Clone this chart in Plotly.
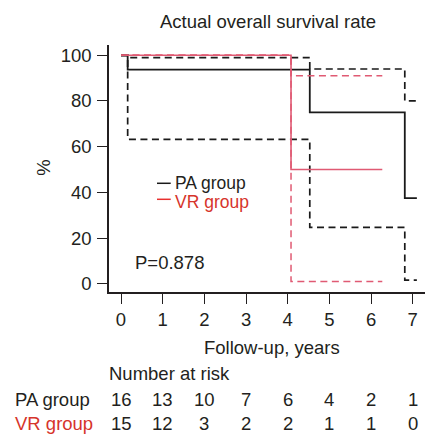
import plotly.graph_objects as go

# ---- data ----
pa_t = [0, 0.16, 4.53, 6.81, 7.1]
pa_s = [100, 93.75, 75, 37.5, 37.5]
pa_up = [100, 99, 94, 80, 80]
pa_lo = [100, 63.2, 24.7, 1.6, 1.6]

vr_t = [0, 4.08, 6.27]
vr_s = [100, 50, 50]
vr_up = [100, 91, 91]
vr_lo = [100, 1, 1]

x_ticks = [0, 1, 2, 3, 4, 5, 6, 7]
y_ticks = [0, 20, 40, 60, 80, 100]
risk_pa = [16, 13, 10, 7, 6, 4, 2, 1]
risk_vr = [15, 12, 3, 2, 2, 1, 1, 0]
groups = ["PA group", "VR group"]
p_text = "P=0.878"

BLACK = "#1a1a1a"
RED_LINE = "#e05a73"
RED_TEXT = "#d6342b"
TXT = "#231f20"
FONT = "Liberation Sans, Arial, Helvetica, sans-serif"
FS = 18.5
LFS = 17.5

fig = go.Figure()
dash = "7px,4.5px"
fig.add_trace(go.Scatter(x=pa_t, y=pa_up, mode="lines", line=dict(color=BLACK, width=1.7, dash=dash, shape="hv"), showlegend=False))
fig.add_trace(go.Scatter(x=pa_t, y=pa_lo, mode="lines", line=dict(color=BLACK, width=1.7, dash=dash, shape="hv"), showlegend=False))
fig.add_trace(go.Scatter(x=pa_t, y=pa_s, mode="lines", line=dict(color=BLACK, width=1.8, shape="hv"), showlegend=False))
fig.add_trace(go.Scatter(x=vr_t, y=vr_up, mode="lines", line=dict(color=RED_LINE, width=1.5, dash=dash, shape="hv"), showlegend=False))
fig.add_trace(go.Scatter(x=vr_t, y=vr_lo, mode="lines", line=dict(color=RED_LINE, width=1.5, dash=dash, shape="hv"), showlegend=False))
fig.add_trace(go.Scatter(x=vr_t, y=vr_s, mode="lines", line=dict(color=RED_LINE, width=1.6, shape="hv"), showlegend=False))

ann = []
# title
ann.append(dict(text="Actual overall survival rate", xref="paper", yref="paper", x=0.503, y=1.095,
                xanchor="center", yanchor="middle", showarrow=False, font=dict(size=FS, color=TXT)))
# y title
ann.append(dict(text="%", xref="paper", yref="paper", x=-0.21, y=0.502, textangle=-90,
                xanchor="center", yanchor="middle", showarrow=False, font=dict(size=FS, color=TXT)))
# x title
ann.append(dict(text="Follow-up, years", xref="paper", yref="paper", x=0.516, y=-0.223,
                xanchor="center", yanchor="middle", showarrow=False, font=dict(size=FS, color=TXT)))
# number at risk
ann.append(dict(text="Number at risk", xref="paper", yref="paper", x=-0.006, y=-0.328,
                xanchor="left", yanchor="middle", showarrow=False, font=dict(size=FS, color=TXT)))
row_y = [-0.435, -0.534]
row_col = [TXT, RED_TEXT]
for g, yy, c, vals in zip(groups, row_y, row_col, [risk_pa, risk_vr]):
    ann.append(dict(text=g, xref="paper", yref="paper", x=-0.304, y=yy, xanchor="left", yanchor="middle",
                    showarrow=False, font=dict(size=FS, color=c)))
    for xv, v in zip(x_ticks, vals):
        ann.append(dict(text=str(v), xref="x", yref="paper", x=xv, y=yy, xanchor="center", yanchor="middle",
                        showarrow=False, font=dict(size=FS, color=TXT)))
# P value
ann.append(dict(text=p_text, xref="x", yref="y", x=0.28, y=9.2, xanchor="left", yanchor="middle",
                showarrow=False, font=dict(size=FS, color=TXT)))
# legend text
ann.append(dict(text=groups[0], xref="x", yref="y", x=1.255, y=44.2, xanchor="left", yanchor="middle",
                showarrow=False, font=dict(size=LFS, color=TXT)))
ann.append(dict(text=groups[1], xref="x", yref="y", x=1.255, y=35.8, xanchor="left", yanchor="middle",
                showarrow=False, font=dict(size=LFS, color=RED_TEXT)))

shapes = [
    dict(type="line", xref="x", yref="y", x0=0.864, x1=1.193, y0=43.96, y1=43.96, line=dict(color=BLACK, width=1.5)),
    dict(type="line", xref="x", yref="y", x0=0.864, x1=1.193, y0=36.95, y1=36.95, line=dict(color="#e8302f", width=1.5)),
]

fig.update_layout(
    width=425, height=434,
    margin=dict(l=109, r=0, t=45, b=142),
    paper_bgcolor="white", plot_bgcolor="white",
    font=dict(family=FONT, size=FS, color=TXT),
    annotations=ann, shapes=shapes,
    xaxis=dict(range=[-0.288, 7.295], tickvals=x_ticks, ticks="outside", ticklen=10, tickwidth=1.2,
               tickcolor=TXT, showline=True, linecolor=TXT, linewidth=1.5, showgrid=False, zeroline=False,
               tickfont=dict(size=FS, color=TXT)),
    yaxis=dict(range=[-3.63, 104.5], tickvals=y_ticks, ticks="outside", ticklen=10, tickwidth=1.2,
               tickcolor=TXT, showline=True, linecolor=TXT, linewidth=1.5, showgrid=False, zeroline=False,
               tickfont=dict(size=FS, color=TXT), ticklabelstandoff=2),
)

fig.write_html("out.html")
